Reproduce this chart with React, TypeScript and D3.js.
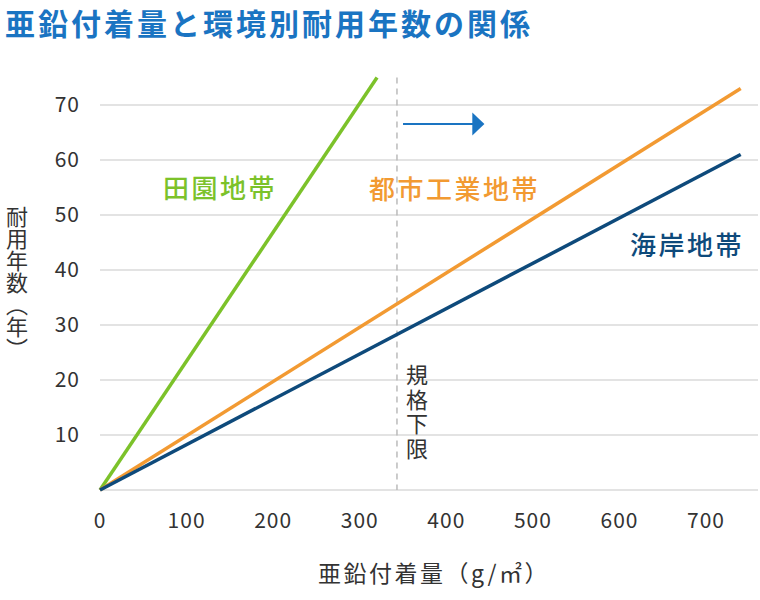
import React, { useRef, useEffect } from 'react';
import * as d3 from 'd3';

// coating mass (g/m2) -> service life (years), straight lines from origin
const rural = [{ x: 0, y: 0 }, { x: 320, y: 75 }];
const urban = [{ x: 0, y: 0 }, { x: 740, y: 73 }];
const coastal = [{ x: 0, y: 0 }, { x: 740, y: 61 }];
const xTicks = [0, 100, 200, 300, 400, 500, 600, 700];
const yTicks = [10, 20, 30, 40, 50, 60, 70];
const standardMin = 343;

const FONT = '"Noto Sans CJK JP", "Noto Sans", sans-serif';

const App = () => {
  const ref = useRef<SVGSVGElement>(null);

  useEffect(() => {
    document.body.style.margin = '0';
    const svg = d3.select(ref.current).attr('width', 760).attr('height', 600);
    svg.selectAll('*').remove();

    const x = d3.scaleLinear().domain([0, 760]).range([100, 758]);
    const y = d3.scaleLinear().domain([0, 70]).range([490, 105]);

    // title
    svg.append('text')
      .attr('x', 5).attr('y', 35)
      .attr('font-family', FONT).attr('font-size', 30).attr('font-weight', 700)
      .attr('letter-spacing', 3)
      .attr('fill', '#1a74c2')
      .text('亜鉛付着量と環境別耐用年数の関係');

    // grid
    svg.append('g').selectAll('line')
      .data([0, ...yTicks]).enter().append('line')
      .attr('x1', x(0)).attr('x2', x(760))
      .attr('y1', d => y(d)).attr('y2', d => y(d))
      .attr('stroke', '#dadada').attr('stroke-width', 1.5);

    // y tick labels
    svg.append('g').selectAll('text')
      .data(yTicks).enter().append('text')
      .attr('x', 80).attr('y', d => y(d)).attr('dy', '0.35em')
      .attr('text-anchor', 'end')
      .attr('font-family', FONT).attr('font-size', 21).attr('letter-spacing', 1)
      .attr('fill', '#333')
      .text(d => d);

    // x tick labels
    svg.append('g').selectAll('text')
      .data(xTicks).enter().append('text')
      .attr('x', d => x(d)).attr('y', 528)
      .attr('text-anchor', 'middle')
      .attr('font-family', FONT).attr('font-size', 21).attr('letter-spacing', 1)
      .attr('fill', '#333')
      .text(d => d);

    // standard lower limit
    svg.append('line')
      .attr('x1', x(standardMin)).attr('x2', x(standardMin))
      .attr('y1', y(75)).attr('y2', y(0))
      .attr('stroke', '#bbb').attr('stroke-width', 1.5)
      .attr('stroke-dasharray', '6,5');

    svg.append('text')
      .attr('x', 417).attr('y', 364)
      .attr('writing-mode', 'vertical-rl')
      .attr('font-family', FONT).attr('font-size', 22).attr('letter-spacing', 2.5)
      .attr('fill', '#333')
      .text('規格下限');

    // arrow
    const ay = 124;
    svg.append('line')
      .attr('x1', x(350)).attr('x2', x(434))
      .attr('y1', ay).attr('y2', ay)
      .attr('stroke', '#1a74c2').attr('stroke-width', 2);
    svg.append('path')
      .attr('d', `M${x(430)},${ay - 11.5}L${x(444)},${ay}L${x(430)},${ay + 11.5}Z`)
      .attr('fill', '#1a74c2');

    // lines
    const line = d3.line<{ x: number; y: number }>().x(d => x(d.x)).y(d => y(d.y));
    const series = [
      { data: rural, color: '#7cc22a' },
      { data: urban, color: '#f29a32' },
      { data: coastal, color: '#0e4a7b' },
    ];
    svg.append('g').selectAll('path')
      .data(series).enter().append('path')
      .attr('d', d => line(d.data))
      .attr('fill', 'none')
      .attr('stroke', d => d.color)
      .attr('stroke-width', 3.5);

    // series labels
    const labels = [
      { text: '田園地帯', x: 163, y: 198, color: '#7cc22a' },
      { text: '都市工業地帯', x: 369, y: 199, color: '#f29a32' },
      { text: '海岸地帯', x: 630, y: 255, color: '#0e4a7b' },
    ];
    svg.append('g').selectAll('text')
      .data(labels).enter().append('text')
      .attr('x', d => d.x).attr('y', d => d.y)
      .attr('font-family', FONT).attr('font-size', 26).attr('font-weight', 500)
      .attr('letter-spacing', 2.5)
      .attr('fill', d => d.color)
      .text(d => d.text);

    // axis titles
    svg.append('text')
      .attr('x', 434).attr('y', 582)
      .attr('text-anchor', 'middle')
      .attr('font-family', FONT).attr('font-size', 23).attr('letter-spacing', 2.5)
      .attr('fill', '#333')
      .text('亜鉛付着量（g/㎡）');

    svg.append('text')
      .attr('x', 17).attr('y', 283)
      .attr('writing-mode', 'vertical-rl')
      .attr('text-anchor', 'middle')
      .attr('font-family', FONT).attr('font-size', 22)
      .attr('fill', '#333')
      .text('耐用年数（年）');
  }, []);

  return <svg ref={ref}></svg>;
};

export default App;
